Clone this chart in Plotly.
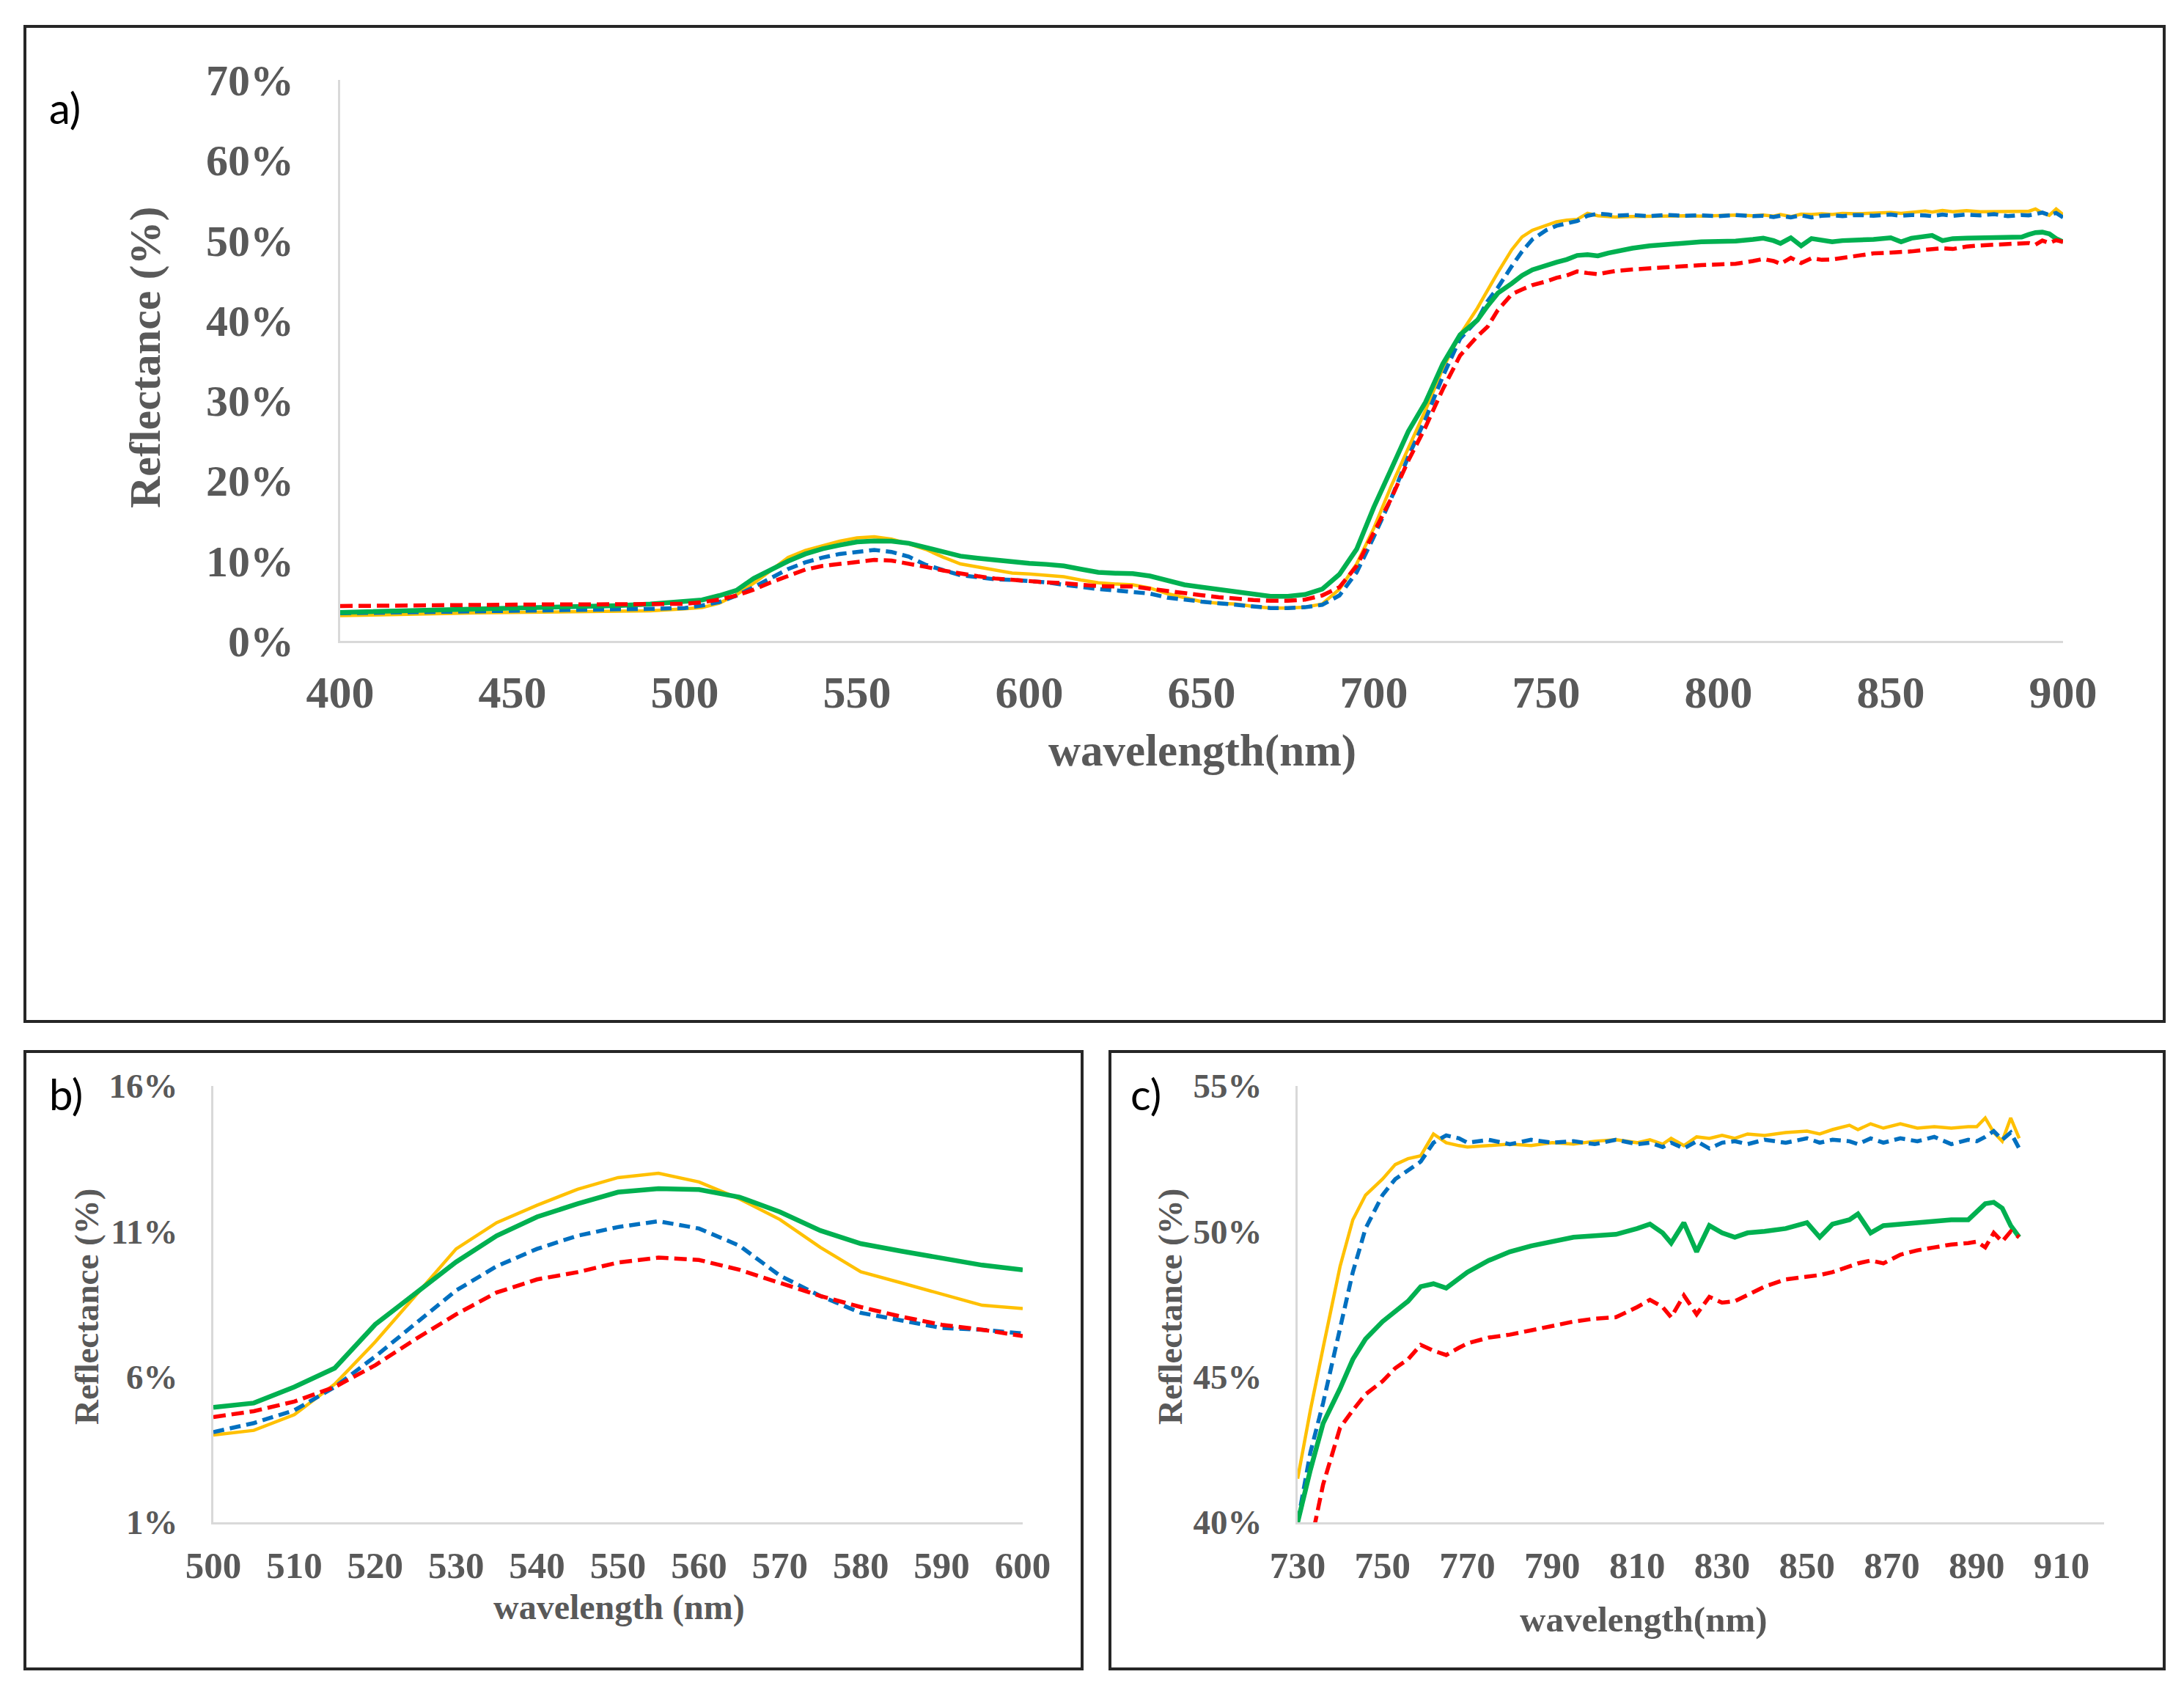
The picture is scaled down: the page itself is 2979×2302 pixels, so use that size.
import numpy as np
import plotly.graph_objects as go

# ---------------- data (reflectance in %) ----------------
wavelength = [400, 410, 420, 430, 440, 450, 460, 470, 480, 490,
              500, 505, 510, 515, 520, 525, 530, 535, 540, 545, 550, 555, 560, 565, 570, 575, 580, 585, 590, 595,
              600, 605, 610, 615, 620, 625, 630, 635, 640, 645, 650, 655, 660, 665, 670, 675, 680, 685, 690, 695,
              700, 705, 710, 715, 720, 725,
              730, 733, 736, 740, 743, 746, 750, 753, 756, 759, 762, 765, 768, 770, 775, 780, 785, 790, 795, 800,
              805, 810, 813, 816, 818, 821, 824, 827, 830, 833, 836, 840, 845, 850, 853, 856, 860, 862, 865, 868,
              872, 876, 880, 884, 888, 890, 892, 894, 896, 898, 900]

yellow = [3.15, 3.2, 3.3, 3.4, 3.5, 3.55, 3.6, 3.65, 3.7, 3.75,
          4.0, 4.16, 4.7, 5.75, 7.2, 8.8, 10.4, 11.3, 11.9, 12.45, 12.85, 13.0, 12.7, 12.12, 11.41, 10.45, 9.61, 9.23, 8.84, 8.46,
          8.35, 8.2, 8.0, 7.6, 7.25, 7.1, 7.0, 6.6, 5.9, 5.4, 4.9, 4.7, 4.6, 4.3, 4.1, 4.1, 4.2, 4.6, 6.46, 9.6,
          14.08, 19.3, 24.05, 28.8, 34.0, 38.2,
          41.5, 43.85, 46.0, 48.8, 50.4, 51.25, 51.8, 52.3, 52.5, 52.6, 53.35, 53.05, 52.95, 52.9, 52.95, 53.0, 52.95, 53.05, 53.0, 53.1,
          53.15, 53.05, 53.15, 53.0, 53.2, 52.95, 53.25, 53.2, 53.3, 53.2, 53.35, 53.3, 53.4, 53.45, 53.35, 53.5, 53.65, 53.5, 53.7, 53.55,
          53.7, 53.55, 53.6, 53.55, 53.6, 53.6, 53.9, 53.4, 53.1, 53.9, 53.2]

blue = [3.45, 3.5, 3.55, 3.6, 3.7, 3.75, 3.8, 3.85, 3.9, 4.0,
        4.1, 4.41, 4.85, 5.65, 6.7, 7.85, 8.97, 9.8, 10.4, 10.85, 11.15, 11.35, 11.1, 10.51, 9.48, 8.78, 8.2, 7.94, 7.68, 7.62,
        7.49, 7.3, 7.0, 6.7, 6.46, 6.3, 6.1, 5.9, 5.4, 5.1, 4.9, 4.7, 4.5, 4.3, 4.1, 4.1, 4.2, 4.5, 5.67, 8.56,
        13.0, 17.75, 23.0, 27.7, 33.0, 37.7,
        40.0, 42.4, 44.1, 46.75, 48.6, 50.1, 51.25, 51.8, 52.1, 52.4, 53.05, 53.3, 53.2, 53.05, 53.15, 53.0, 53.15, 53.05, 53.1, 53.0,
        53.15, 53.0, 53.05, 52.9, 53.05, 52.85, 53.1, 52.85, 53.05, 53.1, 53.0, 53.15, 53.05, 53.2, 53.05, 53.15, 53.1, 53.0, 53.2, 53.05,
        53.2, 53.1, 53.25, 53.0, 53.15, 53.1, 53.25, 53.45, 53.15, 53.4, 52.85]

green = [3.55, 3.65, 3.75, 3.85, 4.0, 4.1, 4.2, 4.3, 4.4, 4.6,
         4.95, 5.1, 5.65, 6.3, 7.8, 8.9, 9.95, 10.85, 11.5, 11.95, 12.35, 12.47, 12.44, 12.18, 11.67, 11.03, 10.58, 10.32, 10.06, 9.84,
         9.68, 9.55, 9.35, 8.95, 8.56, 8.45, 8.4, 8.1, 7.5, 7.0, 6.7, 6.4, 6.2, 5.8, 5.57, 5.55, 5.78, 6.46, 8.3, 11.45,
         16.7, 21.4, 26.15, 29.8, 34.56, 38.2,
         40.0, 41.8, 43.4, 44.6, 45.6, 46.3, 46.9, 47.25, 47.6, 48.1, 48.2, 48.05, 48.4, 48.6, 49.0, 49.3, 49.5, 49.65, 49.8, 49.85,
         49.9, 50.1, 50.25, 49.95, 49.6, 50.3, 49.3, 50.2, 49.95, 49.8, 49.95, 50.0, 50.1, 50.3, 49.8, 50.25, 50.4, 50.6, 49.95, 50.2,
         50.25, 50.3, 50.35, 50.4, 50.4, 50.7, 50.95, 51.0, 50.8, 50.2, 49.8]

red = [4.35, 4.4, 4.45, 4.5, 4.5, 4.55, 4.55, 4.55, 4.6, 4.6,
       4.62, 4.82, 5.15, 5.65, 6.4, 7.3, 8.15, 8.9, 9.35, 9.6, 9.93, 10.1, 10.02, 9.68, 9.23, 8.78, 8.4, 8.07, 7.79, 7.62,
       7.4, 7.3, 7.2, 7.0, 6.83, 6.8, 6.8, 6.5, 6.2, 5.9, 5.7, 5.45, 5.25, 5.1, 5.0, 5.0, 5.15, 5.67, 6.7, 9.35,
       13.55, 17.75, 22.5, 26.7, 31.4, 35.6,
       38.0, 39.2, 41.3, 43.25, 43.85, 44.4, 44.85, 45.3, 45.6, 46.1, 45.9, 45.75, 46.0, 46.15, 46.35, 46.45, 46.6, 46.75, 46.9, 47.0,
       47.05, 47.4, 47.65, 47.4, 47.05, 47.8, 47.15, 47.75, 47.55, 47.6, 47.8, 48.1, 48.35, 48.45, 48.5, 48.6, 48.8, 48.9, 49.0, 48.9,
       49.2, 49.35, 49.45, 49.55, 49.6, 49.65, 49.45, 49.95, 49.65, 50.0, 49.8]

# ---------------- figure ----------------
W, H = 2979, 2302
SERIF = "Liberation Serif, Times New Roman, serif"
GRAY = "#595959"
AXIS_LINE = "#D9D9D9"

wl = np.array(wavelength)
series = [
    (np.array(yellow), "#FFC000", 4.5, "solid"),
    (np.array(blue), "#0070C0", 5.5, "15px,8px"),
    (np.array(green), "#00B050", 6.5, "solid"),
    (np.array(red), "#FF0000", 5.5, "17px,8px"),
]

fig = go.Figure()

panels = [
    ("x", "y", 400, 900),
    ("x2", "y2", 500, 600),
    ("x3", "y3", 730, 900),
]

for xa, ya, lo, hi in panels:
    m = (wl >= lo) & (wl <= hi)
    for vals, col, lw, dash in series:
        fig.add_trace(go.Scatter(
            x=wl[m], y=vals[m], mode="lines", xaxis=xa, yaxis=ya,
            line=dict(color=col, width=lw, dash=dash), showlegend=False,
            hoverinfo="skip"))


def px_x(p):
    return p / W


def px_y(p):
    return 1 - p / H


def axis_common(size):
    return dict(showgrid=False, zeroline=False, showline=True, linecolor=AXIS_LINE,
                linewidth=3, ticks="outside", tickcolor="rgba(0,0,0,0)", automargin=False,
                tickfont=dict(family=SERIF, size=size, color=GRAY, weight="bold"),
                fixedrange=True)


fig.update_layout(
    template="none",
    width=W, height=H, margin=dict(l=0, r=0, t=0, b=0, pad=0, autoexpand=False),
    paper_bgcolor="white", plot_bgcolor="white",
    xaxis=dict(domain=[px_x(456), px_x(2806)], range=[400, 900], tick0=400, dtick=50,
               anchor="y", ticklen=14, **axis_common(62)),
    yaxis=dict(domain=[px_y(866), px_y(101)], range=[0, 70], tick0=0, dtick=10,
               ticksuffix="%", anchor="x", ticklen=48, **axis_common(60)),
    xaxis2=dict(domain=[px_x(283), px_x(1387)], range=[500, 600], tick0=500, dtick=10,
                anchor="y2", ticklen=12, **axis_common(51)),
    yaxis2=dict(domain=[px_y(2068), px_y(1473)], range=[1, 16], tick0=1, dtick=5,
                ticksuffix="%", anchor="x2", ticklen=36, **axis_common(47)),
    xaxis3=dict(domain=[px_x(1762), px_x(2862)], range=[730, 920], tick0=730, dtick=20,
                anchor="y3", ticklen=12, **axis_common(51)),
    yaxis3=dict(domain=[px_y(2068), px_y(1473)], range=[40, 55], tick0=40, dtick=5,
                ticksuffix="%", anchor="x3", ticklen=36, **axis_common(47)),
)

# panel frames
frames = [(26, 28, 2944, 1385), (26, 1426, 1468, 2268), (1506, 1426, 2944, 2268)]
for x0, y0, x1, y1 in frames:
    fig.add_shape(type="rect", xref="paper", yref="paper",
                  x0=px_x(x0), x1=px_x(x1), y0=px_y(y1), y1=px_y(y0),
                  line=dict(color="#262626", width=4), fillcolor="rgba(0,0,0,0)", layer="below")

titles = [
    ("wavelength(nm)", 1632, 1016, 61, 0),
    ("Reflectance (%)", 190, 479, 60, -90),
    ("wavelength (nm)", 836, 2184, 48, 0),
    ("Reflectance (%)", 110, 1774, 47, -90),
    ("wavelength(nm)", 2234, 2200, 49, 0),
    ("Reflectance (%)", 1588, 1774, 47, -90),
]
for txt, cx, cy, size, rot in titles:
    fig.add_annotation(text=txt, xref="paper", yref="paper", x=px_x(cx), y=px_y(cy),
                       xanchor="center", yanchor="middle", showarrow=False, textangle=rot,
                       font=dict(family=SERIF, size=size, color=GRAY, weight="bold"))

for txt, cx, cy in [("a)", 80, 138), ("b)", 82, 1484), ("c)", 1555, 1484)]:
    fig.add_annotation(text=txt, xref="paper", yref="paper", x=px_x(cx), y=px_y(cy),
                       xanchor="center", yanchor="middle", showarrow=False,
                       font=dict(family="Lato, Open Sans, sans-serif", size=58, color="black"))

fig.write_html("out.html", config={"displayModeBar": False})
